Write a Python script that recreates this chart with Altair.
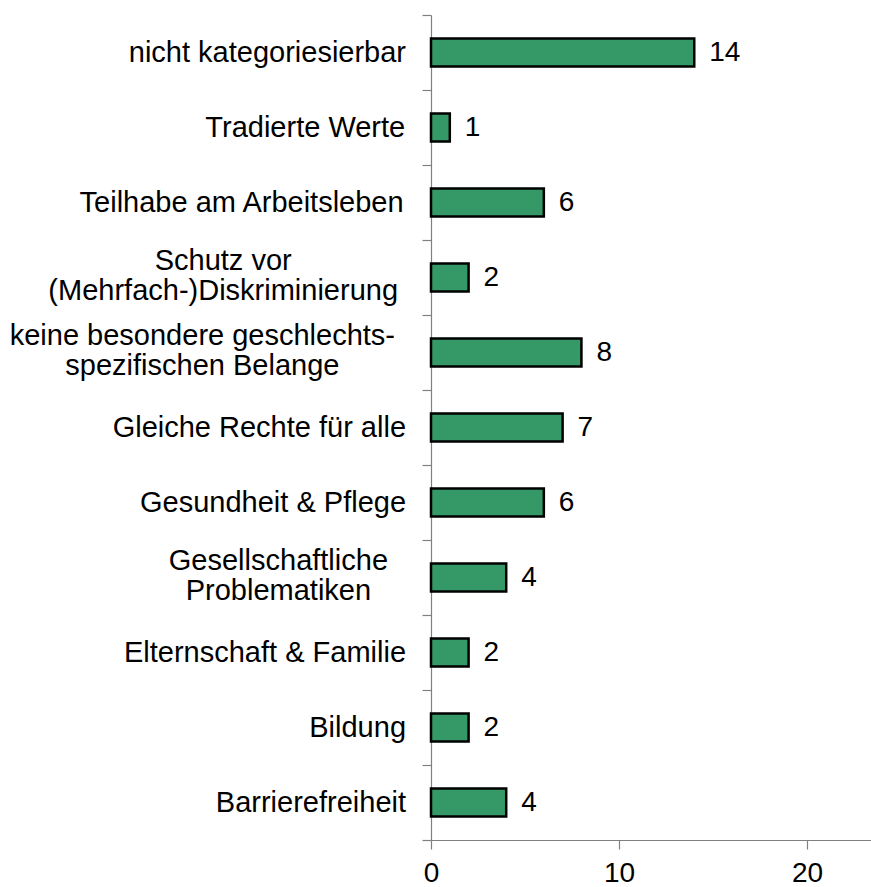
import altair as alt
import pandas as pd

# ---- data ----
categories = [
    "nicht kategoriesierbar",
    "Tradierte Werte",
    "Teilhabe am Arbeitsleben",
    "Schutz vor (Mehrfach-)Diskriminierung",
    "keine besondere geschlechts-spezifischen Belange",
    "Gleiche Rechte für alle",
    "Gesundheit & Pflege",
    "Gesellschaftliche Problematiken",
    "Elternschaft & Familie",
    "Bildung",
    "Barrierefreiheit",
]
label_lines = [
    ["nicht kategoriesierbar"],
    ["Tradierte Werte"],
    ["Teilhabe am Arbeitsleben"],
    ["Schutz vor", "(Mehrfach-)Diskriminierung"],
    ["keine besondere geschlechts-", "spezifischen Belange"],
    ["Gleiche Rechte für alle"],
    ["Gesundheit & Pflege"],
    ["Gesellschaftliche", "Problematiken"],
    ["Elternschaft & Familie"],
    ["Bildung"],
    ["Barrierefreiheit"],
]
values = [14, 1, 6, 2, 8, 7, 6, 4, 2, 2, 4]
x_ticks = [0, 10, 20]

# ---- styling ----
WIDTH = 440
HEIGHT = 825
FONT = "Liberation Sans"
FS = 28          # tick and value labels
CAT_FS = 29      # category labels
LABEL_GAP = 25
LINE_H = 30
WRAP_SHIFT_Y = -17
# wrapped (centred) labels sit a little further from the axis, as in the original
wrap_extra_gap = {
    "Schutz vor (Mehrfach-)Diskriminierung": 8,
    "keine besondere geschlechts-spezifischen Belange": 11,
    "Gesellschaftliche Problematiken": 18,
}

# Arial / Liberation Sans advance widths (1/1000 em) for centring the label lines
W = {" ": 278, "&": 667, "(": 333, ")": 333, "-": 333,
     "A": 667, "B": 667, "D": 722, "E": 667, "F": 611, "G": 778, "M": 833,
     "P": 667, "R": 722, "S": 667, "T": 611, "W": 944,
     "a": 556, "b": 556, "c": 500, "d": 556, "e": 556, "f": 278, "g": 556,
     "h": 556, "i": 222, "j": 222, "k": 500, "l": 222, "m": 833, "n": 556,
     "o": 556, "p": 556, "q": 556, "r": 333, "s": 500, "t": 278, "u": 556,
     "v": 500, "w": 722, "x": 500, "y": 500, "z": 500, "ü": 556}


def text_width(s):
    return sum(W.get(ch, 556) for ch in s) / 1000.0 * CAT_FS


half_band = HEIGHT / len(categories) / 2.0
x_off = []
y_off = []
for cat, lines in zip(categories, label_lines):
    half = max(text_width(l) for l in lines) / 2.0
    x_off.append(-(LABEL_GAP + wrap_extra_gap.get(cat, 0) + half))
    y_off.append(half_band + WRAP_SHIFT_Y * (len(lines) - 1))

df = pd.DataFrame({
    "Kategorie": categories,
    "Anzahl": values,
    "Label": ["\n".join(l) for l in label_lines],
    "xoff": x_off,
    "yoff": y_off,
})

AX_COL = "#808080"

y_enc = alt.Y(
    "Kategorie:N",
    sort=categories,
    scale=alt.Scale(paddingInner=0, paddingOuter=0),
    axis=alt.Axis(
        title=None, labels=False, domain=True, domainColor=AX_COL,
        domainWidth=1.2, ticks=True, tickBand="extent", tickSize=9,
        tickColor=AX_COL, tickWidth=1.2, grid=False,
    ),
)
x_scale = alt.Scale(domain=[0, 23.4], nice=False, zero=True)

base = alt.Chart(df)

bars = base.mark_bar(
    size=28, color="#349966", stroke="#000000", strokeWidth=2.5
).encode(
    x=alt.X(
        "Anzahl:Q", scale=x_scale,
        axis=alt.Axis(
            title=None, values=x_ticks, grid=False, domainColor=AX_COL,
            domainWidth=1.2, tickColor=AX_COL, tickWidth=1.2, tickSize=9,
            labelFont=FONT, labelFontSize=FS, labelColor="#000000",
            labelPadding=10, labelFlush=False,
        ),
    ),
    y=y_enc,
)

value_text = base.mark_text(
    align="left", baseline="middle", dx=15, font=FONT, fontSize=FS, color="#000000"
).encode(
    x=alt.X("Anzahl:Q", scale=x_scale),
    y=y_enc,
    text=alt.Text("Anzahl:Q"),
)

cat_text = base.mark_text(
    align="center", baseline="middle", font=FONT, fontSize=CAT_FS, color="#000000",
    lineBreak="\n", lineHeight=LINE_H,
).encode(
    x=alt.datum(0, scale=x_scale),
    xOffset=alt.XOffset("xoff:Q", scale=None),
    y=y_enc,
    yOffset=alt.YOffset("yoff:Q", scale=None),
    text=alt.Text("Label:N"),
)

chart = alt.layer(bars, value_text, cat_text).properties(
    width=WIDTH,
    height=HEIGHT,
    padding={"left": 431, "top": 15, "right": 0, "bottom": 47},
    autosize=alt.AutoSizeParams(type="none"),
    background="#ffffff",
).configure_view(stroke=None)

chart.save("out.html", embed_options={"renderer": "svg", "actions": False})
